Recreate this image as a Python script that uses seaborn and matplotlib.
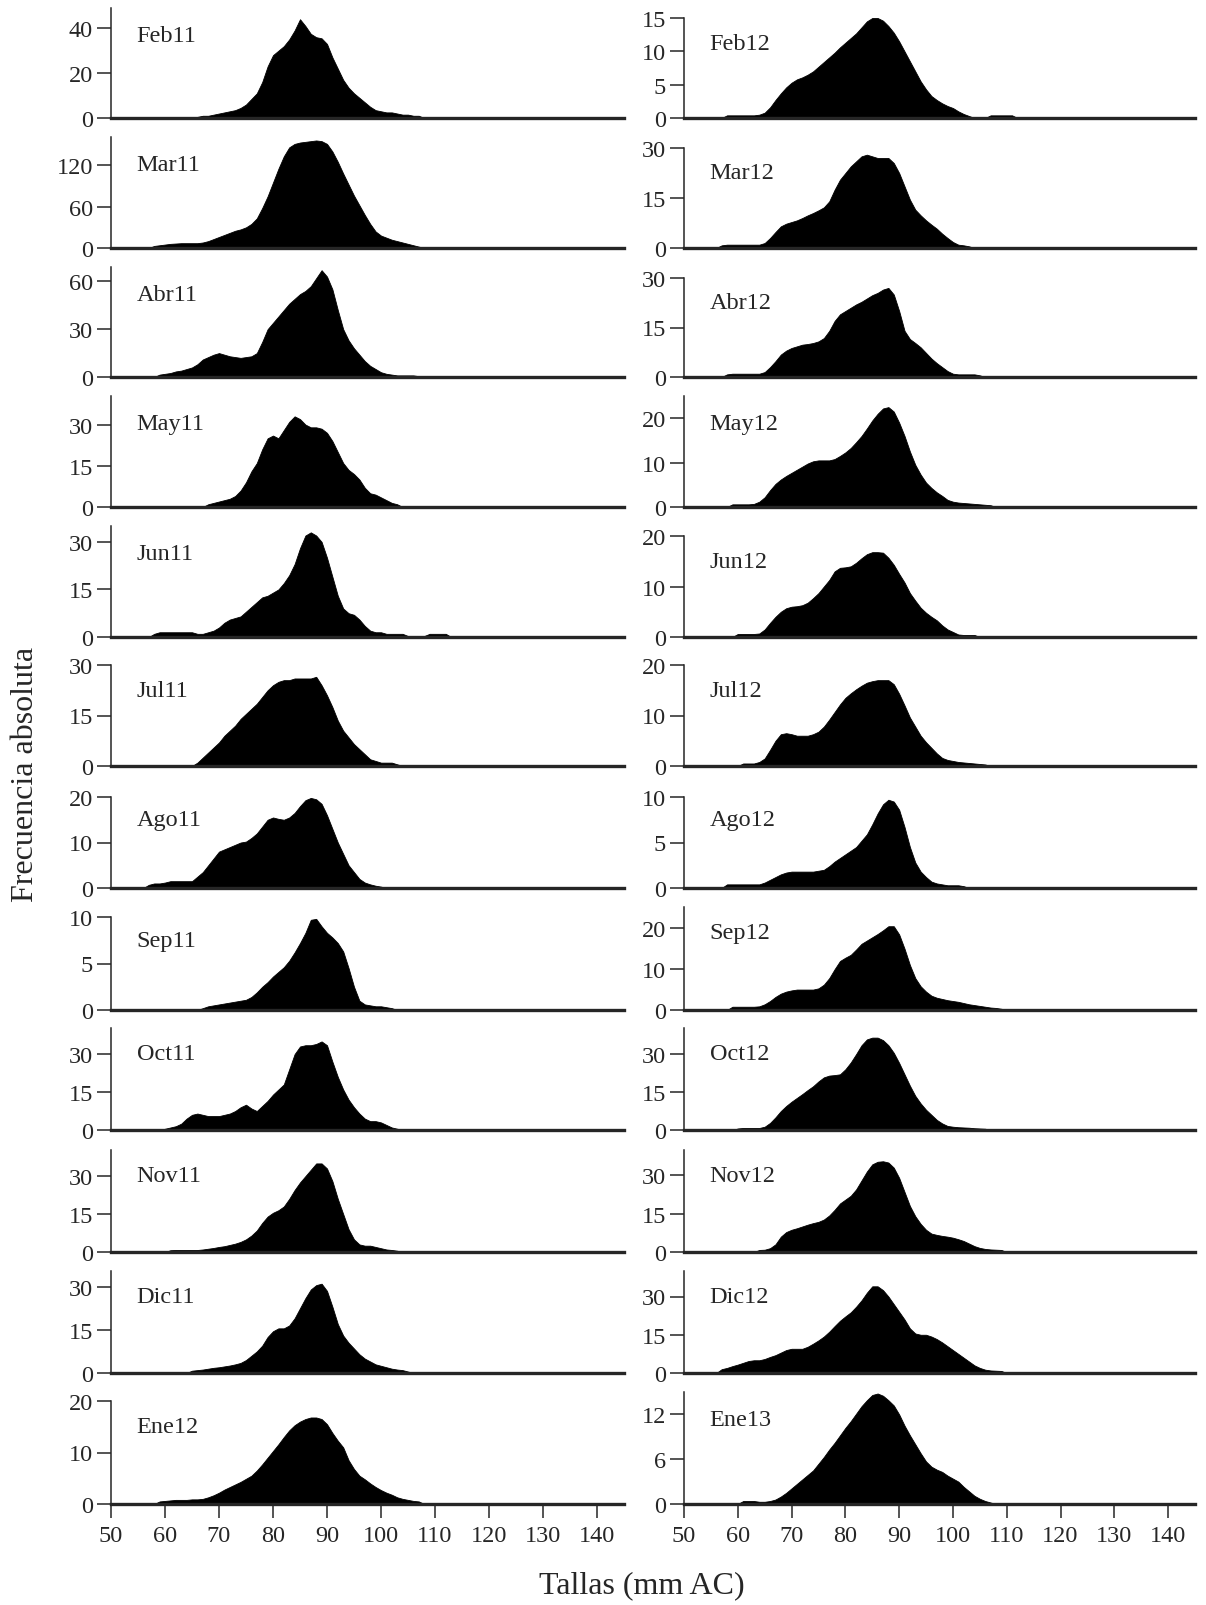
import matplotlib
matplotlib.use("Agg")
import matplotlib.pyplot as plt
import pandas as pd
import seaborn as sns

# Tallas (mm AC), una clase por mm
tallas = list(range(56, 114))

# Frecuencias absolutas (56..113 mm)
feb11 = [0, 0, 0, 0, 0, 0, 0, 0, 0, 0,
         0.5, 1, 1, 1.5, 2, 2.5, 3, 3.5, 4.5, 6,
         8.5, 11, 16, 23, 28, 30, 32, 35, 39, 44,
         41, 37.5, 36, 35.5, 33, 27, 22, 17, 13.5, 11,
         9, 7, 5, 3.5, 3, 2.5, 2.5, 2, 1.5, 1.5,
         1, 1, 0, 0, 0, 0, 0, 0]
mar11 = [0, 0, 3, 4, 5, 6, 6.5, 7, 7, 7,
         7, 8, 10, 13, 16, 19, 22, 25, 27, 30,
         35, 43, 58, 75, 95, 115, 133, 146, 151, 153,
         154, 155, 156, 155, 151, 140, 125, 108, 92, 76,
         62, 48, 35, 24, 18, 15, 12, 10, 8, 6,
         4, 2, 0, 0, 0, 0, 0, 0]
abr11 = [0, 0, 0, 1.5, 2, 2.5, 3.5, 4, 5, 6,
         8, 11, 12.5, 14, 15, 14, 13, 12.5, 12, 12.5,
         13, 15, 22, 30, 34, 38, 42, 46, 49, 52,
         54, 57, 62, 67, 63, 55, 42, 30, 23, 18,
         14, 10, 7, 5, 3, 2, 1.5, 1, 1, 1,
         1, 0.5, 0, 0, 0, 0, 0, 0]
may11 = [0, 0, 0, 0, 0, 0, 0, 0, 0, 0,
         0, 0, 1, 1.5, 2, 2.5, 3, 4, 6, 9,
         13, 16, 21, 25, 26, 25, 28, 31, 33, 32,
         30, 29, 29, 28.5, 27, 24, 20, 16, 13.5, 12,
         10, 7, 5, 4.5, 3.5, 2.5, 1.5, 1, 0, 0,
         0, 0, 0, 0, 0, 0, 0, 0]
jun11 = [0, 0, 1, 1.5, 1.5, 1.5, 1.5, 1.5, 1.5, 1.5,
         1, 1, 1.5, 2, 3, 4.5, 5.5, 6, 6.5, 8,
         9.5, 11, 12.5, 13, 14, 15, 17, 19.5, 23, 28,
         32, 33, 32, 30, 25, 19, 13, 9, 7.5, 7,
         5.5, 3.5, 2, 1.5, 1.5, 1, 1, 1, 1, 0.3,
         0.3, 0.3, 0.3, 1, 1, 1, 1, 0]
jul11 = [0, 0, 0, 0, 0, 0, 0, 0, 0, 0,
         1, 2.5, 4, 5.5, 7, 9, 10.5, 12, 14, 15.5,
         17, 18.5, 20.5, 22.5, 24, 25, 25.5, 25.5, 26, 26,
         26, 26, 26.5, 24, 21, 17.5, 13.5, 10.5, 8.5, 6.5,
         5, 3.5, 2, 1.5, 1, 1, 1, 0.5, 0, 0,
         0, 0, 0, 0, 0, 0, 0, 0]
ago11 = [0, 0.7, 1, 1, 1.2, 1.5, 1.5, 1.5, 1.5, 1.5,
         2.5, 3.5, 5, 6.5, 8, 8.5, 9, 9.5, 10, 10.2,
         11, 12, 13.5, 15, 15.5, 15.2, 15, 15.5, 16.5, 18,
         19.3, 19.8, 19.5, 18.5, 16, 13, 10, 7.5, 5, 3.5,
         2, 1.2, 0.8, 0.5, 0.3, 0, 0, 0, 0, 0,
         0, 0, 0, 0, 0, 0, 0, 0]
sep11 = [0, 0, 0, 0, 0, 0, 0, 0, 0, 0,
         0, 0.2, 0.4, 0.5, 0.6, 0.7, 0.8, 0.9, 1, 1.1,
         1.4, 1.9, 2.5, 3, 3.6, 4.1, 4.6, 5.3, 6.2, 7.2,
         8.3, 9.7, 9.8, 9, 8.3, 7.8, 7.2, 6.3, 4.5, 2.5,
         1, 0.6, 0.5, 0.4, 0.4, 0.3, 0.2, 0, 0, 0,
         0, 0, 0, 0, 0, 0, 0, 0]
oct11 = [0, 0, 0, 0, 0.5, 1, 1.5, 2.5, 4.5, 6,
         6.5, 6, 5.5, 5.5, 5.5, 6, 6.5, 7.5, 9, 10,
         8.5, 7.5, 9.5, 11.5, 14, 16, 18, 24, 30, 33,
         33.5, 33.5, 34, 35, 33.5, 27, 21, 16, 12, 9,
         6.5, 4.5, 3.5, 3.5, 3, 2, 1, 0.5, 0, 0,
         0, 0, 0, 0, 0, 0, 0, 0]
nov11 = [0, 0, 0, 0, 0, 0.7, 0.8, 0.8, 0.8, 0.8,
         0.8, 1, 1.3, 1.6, 2, 2.3, 2.8, 3.3, 4, 5,
         6.5, 8.5, 11.5, 14, 15.5, 16.5, 18, 21, 24.5, 27.5,
         30, 32.5, 35, 35, 33, 28, 21, 15, 9, 5,
         3, 2.5, 2.5, 2, 1.5, 1, 0.8, 0.5, 0, 0,
         0, 0, 0, 0, 0, 0, 0, 0]
dic11 = [0, 0, 0, 0, 0, 0, 0, 0, 0, 0.8,
         1, 1.2, 1.5, 1.8, 2, 2.3, 2.6, 3, 3.5, 4.5,
         6, 7.5, 9.5, 12.5, 14.5, 15.5, 15.5, 16.5, 19, 22.5,
         26, 29, 30.5, 31, 28.5, 23, 17, 13, 10.5, 8.5,
         6.5, 5, 4, 3, 2.5, 2, 1.5, 1.2, 1, 0.5,
         0, 0, 0, 0, 0, 0, 0, 0]
ene12 = [0, 0, 0, 0.5, 0.6, 0.7, 0.8, 0.8, 0.8, 0.9,
         0.9, 1, 1.3, 1.7, 2.2, 2.8, 3.3, 3.8, 4.3, 4.9,
         5.5, 6.5, 7.7, 9, 10.3, 11.6, 13, 14.3, 15.3, 16,
         16.5, 16.8, 16.8, 16.5, 15.5, 13.8, 12.3, 11, 8.5, 6.8,
         5.5, 4.8, 4, 3.3, 2.7, 2.2, 1.8, 1.3, 1, 0.8,
         0.6, 0.5, 0, 0, 0, 0, 0, 0]

feb12 = [0, 0, 0.4, 0.4, 0.4, 0.4, 0.4, 0.4, 0.5, 0.8,
         1.6, 2.7, 3.7, 4.6, 5.3, 5.8, 6.1, 6.5, 7, 7.7,
         8.4, 9.1, 9.8, 10.6, 11.3, 12, 12.7, 13.6, 14.5, 15,
         15, 14.6, 13.8, 12.8, 11.5, 10, 8.5, 7, 5.5, 4.3,
         3.3, 2.7, 2.2, 1.8, 1.5, 1, 0.6, 0.3, 0, 0,
         0, 0.4, 0.4, 0.4, 0.4, 0.4, 0, 0]
mar12 = [0, 0.8, 1, 1, 1, 1, 1, 1, 1, 1.5,
         3, 4.8, 6.5, 7.3, 7.8, 8.3, 9, 9.8, 10.5, 11.3,
         12.2, 14, 17.5, 20.5, 22.5, 24.5, 26, 27.5, 28, 27.5,
         27, 27, 27, 25.5, 22.5, 18.5, 14.5, 11.5, 9.8, 8.3,
         7, 5.8, 4.3, 3, 1.8, 1, 0.8, 0.5, 0, 0,
         0, 0, 0, 0, 0, 0, 0, 0]
abr12 = [0, 0, 0.8, 1, 1, 1, 1, 1, 1, 1.5,
         3, 4.8, 6.8, 8, 8.8, 9.3, 9.8, 10, 10.3, 10.8,
         11.8, 14, 17, 19, 20, 21, 22, 22.8, 23.8, 24.8,
         25.5, 26.5, 27, 25, 20, 14, 11.5, 10.3, 9, 7.3,
         5.6, 4.2, 3, 1.8, 1, 0.8, 0.8, 0.8, 0.8, 0.5,
         0, 0, 0, 0, 0, 0, 0, 0]
may12 = [0, 0, 0, 0.6, 0.6, 0.6, 0.6, 0.7, 1.2, 2.2,
         3.8, 5.2, 6.2, 7, 7.7, 8.4, 9.1, 9.8, 10.3, 10.5,
         10.5, 10.5, 10.8, 11.5, 12.3, 13.3, 14.6, 16, 17.7, 19.5,
         21, 22.2, 22.5, 21.5, 19, 16, 12.5, 9.5, 7.3, 5.5,
         4.3, 3.3, 2.5, 1.6, 1.2, 1, 0.9, 0.8, 0.7, 0.6,
         0.5, 0.4, 0, 0, 0, 0, 0, 0]
jun12 = [0, 0, 0, 0, 0.6, 0.6, 0.6, 0.6, 0.7, 1.5,
         2.8, 4, 5, 5.7, 6, 6.1, 6.3, 6.8, 7.7, 8.7,
         10, 11.3, 13, 13.7, 13.8, 14, 14.7, 15.6, 16.4, 16.8,
         16.8, 16.7, 15.7, 14.3, 12.5, 10.8, 8.7, 7.2, 5.8, 4.8,
         4, 3.3, 2.3, 1.5, 1, 0.5, 0.4, 0.4, 0.4, 0,
         0, 0, 0, 0, 0, 0, 0, 0]
jul12 = [0, 0, 0, 0, 0, 0.5, 0.5, 0.5, 0.8, 1.5,
         3.2, 5, 6.3, 6.5, 6.3, 6, 6, 6, 6.3, 6.8,
         7.8, 9.2, 10.7, 12.2, 13.5, 14.4, 15.2, 15.9, 16.5, 16.8,
         17, 17, 17, 16.2, 14.3, 12, 9.6, 7.8, 6, 4.7,
         3.6, 2.5, 1.6, 1.2, 1, 0.8, 0.7, 0.6, 0.5, 0.4,
         0.3, 0, 0, 0, 0, 0, 0, 0]
ago12 = [0, 0, 0.4, 0.4, 0.4, 0.4, 0.4, 0.4, 0.4, 0.6,
         0.9, 1.2, 1.5, 1.7, 1.8, 1.8, 1.8, 1.8, 1.8, 1.9,
         2, 2.4, 2.9, 3.3, 3.7, 4.1, 4.5, 5.2, 5.9, 7,
         8.2, 9.2, 9.7, 9.5, 8.6, 6.7, 4.5, 2.8, 1.8, 1.2,
         0.7, 0.5, 0.4, 0.3, 0.3, 0.3, 0.2, 0, 0, 0,
         0, 0, 0, 0, 0, 0, 0, 0]
sep12 = [0, 0, 0, 0.8, 0.8, 0.8, 0.8, 0.8, 0.9, 1.4,
         2.2, 3.2, 4, 4.5, 4.8, 5, 5, 5, 5, 5.3,
         6.2, 7.8, 10, 12, 12.8, 13.5, 14.8, 16.2, 17, 17.8,
         18.6, 19.5, 20.5, 20.5, 18.5, 15, 11, 7.8, 5.8, 4.5,
         3.5, 3, 2.7, 2.4, 2.2, 2, 1.7, 1.4, 1.2, 1,
         0.8, 0.6, 0.5, 0.3, 0, 0, 0, 0]
oct12 = [0, 0, 0, 0, 0.6, 0.8, 0.8, 0.8, 0.8, 1.3,
         2.8, 5, 7.5, 9.5, 11.2, 12.7, 14.2, 15.8, 17.3, 19.2,
         20.8, 21.5, 21.7, 22, 24, 26.7, 30, 33.5, 35.8, 36.5,
         36.5, 35.5, 33.5, 30.5, 26.5, 22, 17.5, 13.5, 10.5, 8,
         6, 4, 2.6, 1.6, 1.3, 1.1, 1, 0.9, 0.7, 0.6,
         0.5, 0, 0, 0, 0, 0, 0, 0]
nov12 = [0, 0, 0, 0, 0, 0, 0, 0, 0.8, 0.9,
         1.5, 3, 6, 7.8, 8.7, 9.3, 10, 10.7, 11.3, 11.8,
         12.7, 14.3, 16.5, 19, 20.5, 22, 24.5, 28, 31.5, 34.3,
         35.3, 35.5, 35, 33, 29, 23.5, 18, 14, 11, 8.7,
         7.2, 6.7, 6.3, 6, 5.6, 5, 4.3, 3.3, 2.3, 1.6,
         1.2, 1, 0.9, 0.8, 0, 0, 0, 0]
dic12 = [0, 1.5, 2, 2.7, 3.3, 4, 4.7, 5, 5, 5.5,
         6.3, 7, 8, 9, 9.5, 9.5, 9.5, 10.3, 11.5, 12.8,
         14.3, 16.2, 18.4, 20.5, 22.2, 23.8, 26, 28.5, 31.5, 34,
         34, 32.5, 30, 27, 24, 21, 17.5, 15.5, 15, 15,
         14.3, 13.3, 12, 10.5, 9, 7.5, 6, 4.5, 3, 2,
         1.3, 1, 0.9, 0.8, 0, 0, 0, 0]
ene13 = [0, 0, 0, 0, 0, 0.4, 0.4, 0.4, 0.3, 0.3,
         0.4, 0.6, 1, 1.5, 2.1, 2.7, 3.3, 3.9, 4.5, 5.4,
         6.3, 7.3, 8.2, 9.2, 10.2, 11.1, 12.1, 13.1, 13.9, 14.6,
         14.8, 14.5, 13.9, 13.2, 12, 10.5, 9.2, 8, 6.8, 5.7,
         5, 4.6, 4.3, 3.8, 3.4, 3, 2.3, 1.7, 1.1, 0.7,
         0.4, 0.2, 0, 0, 0, 0, 0, 0]

meses_izq = ['Feb11', 'Mar11', 'Abr11', 'May11', 'Jun11', 'Jul11',
             'Ago11', 'Sep11', 'Oct11', 'Nov11', 'Dic11', 'Ene12']
meses_der = ['Feb12', 'Mar12', 'Abr12', 'May12', 'Jun12', 'Jul12',
             'Ago12', 'Sep12', 'Oct12', 'Nov12', 'Dic12', 'Ene13']
series_izq = [feb11, mar11, abr11, may11, jun11, jul11,
              ago11, sep11, oct11, nov11, dic11, ene12]
series_der = [feb12, mar12, abr12, may12, jun12, jul12,
              ago12, sep12, oct12, nov12, dic12, ene13]

yticks_izq = [[0, 20, 40], [0, 60, 120], [0, 30, 60], [0, 15, 30],
              [0, 15, 30], [0, 15, 30], [0, 10, 20], [0, 5, 10],
              [0, 15, 30], [0, 15, 30], [0, 15, 30], [0, 10, 20]]
yticks_der = [[0, 5, 10, 15], [0, 15, 30], [0, 15, 30], [0, 10, 20],
              [0, 10, 20], [0, 10, 20], [0, 5, 10], [0, 10, 20],
              [0, 15, 30], [0, 15, 30], [0, 15, 30], [0, 6, 12]]
ymax_izq = [49, 161, 69, 40.4, 35, 30, 20, 10, 40.3, 40.3, 35.4, 20]
ymax_der = [15, 30, 30, 25, 20, 20, 10, 25.2, 40.3, 39.9, 40, 15]

# posiciones en pixeles (figura 1206 x 1606)
W, H = 1206, 1606
bases = [119, 249, 378, 508, 638, 767, 889, 1011, 1131, 1253, 1374, 1505]
topes_izq = [9, 138, 268, 397, 527, 666, 798, 918, 1029, 1151, 1272, 1402]
topes_der = [19, 149, 279, 397, 537, 666, 798, 908, 1029, 1151, 1272, 1393]
x_izq, ancho_izq = 111, 513
x_der, ancho_der = 684, 511

sns.set_style("ticks")
plt.rcParams['font.family'] = ['Liberation Serif', 'DejaVu Serif']

fig = plt.figure(figsize=(W / 100, H / 100), dpi=100)


def dibujar_panel(x0, ancho, base, tope, nombre, valores, ymax, ticks, ultima):
    ax = fig.add_axes([x0 / W, 1 - base / H, ancho / W, (base - tope) / H])
    assert len(valores) == len(tallas), nombre
    df = pd.DataFrame({'talla': tallas, 'freq': valores})
    sns.histplot(data=df, x='talla', weights='freq', bins=len(tallas),
                 binrange=(tallas[0] - 0.5, tallas[-1] + 0.5),
                 element='poly', fill=True, color='black', alpha=1,
                 linewidth=0.6, ax=ax)
    ax.set_xlim(50, 145)
    ax.set_ylim(0, ymax)
    ax.set(xlabel='', ylabel='')
    sns.despine(ax=ax)
    ax.spines['left'].set_linewidth(1.1)
    ax.spines['bottom'].set_linewidth(2.4)
    ax.set_yticks(ticks)
    ax.tick_params(axis='y', direction='out', length=10, width=1.1,
                   labelsize=17.5, pad=3)
    if ultima:
        ax.set_xticks(range(50, 141, 10))
        ax.tick_params(axis='x', direction='out', length=10, width=1.1,
                       labelsize=17.5, pad=5)
    else:
        ax.set_xticks([])
    ax.text(0.05, 0.75, nombre, transform=ax.transAxes, fontsize=17.5,
            va='center', ha='left')
    return ax


for i in range(12):
    ultima = i == 11
    dibujar_panel(x_izq, ancho_izq, bases[i], topes_izq[i], meses_izq[i],
                  series_izq[i], ymax_izq[i], yticks_izq[i], ultima)
    dibujar_panel(x_der, ancho_der, bases[i], topes_der[i], meses_der[i],
                  series_der[i], ymax_der[i], yticks_der[i], ultima)

fig.text(0.532, 0.0125, 'Tallas (mm AC)', fontsize=23, ha='center', va='center')
fig.text(0.021, 0.518, 'Frecuencia absoluta', fontsize=23, rotation=90,
         ha='center', va='center')

fig.savefig('out.png', dpi=100)
